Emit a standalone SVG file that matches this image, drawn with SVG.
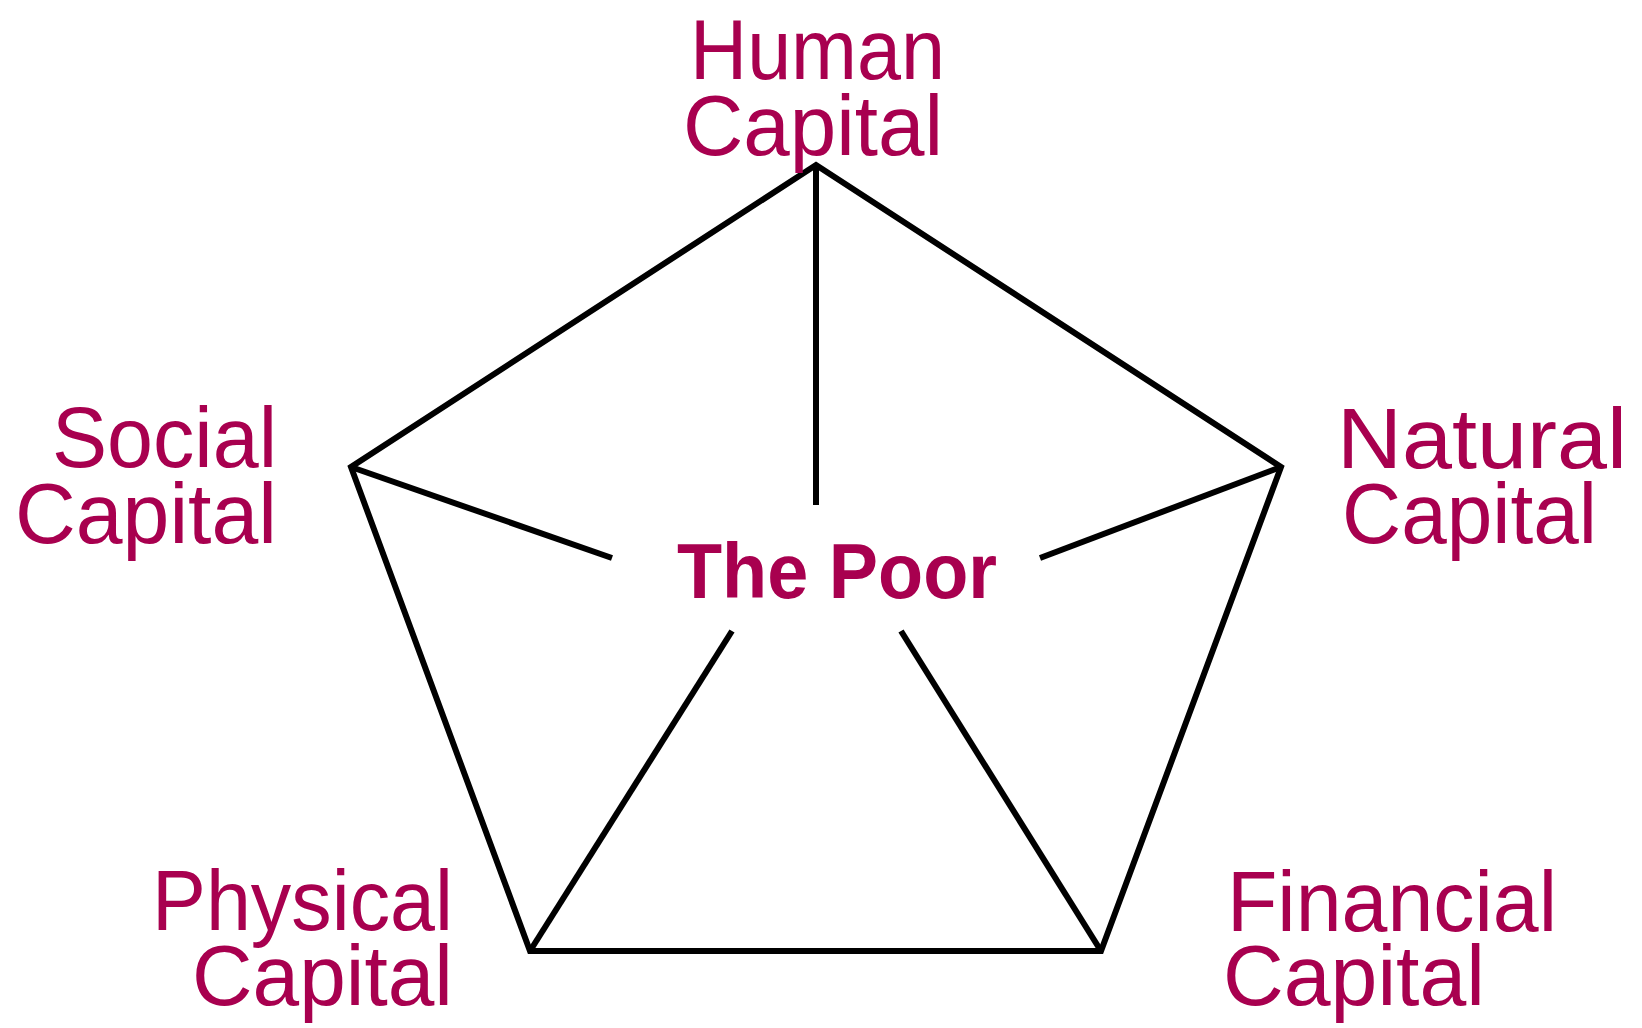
<svg xmlns="http://www.w3.org/2000/svg" width="1642" height="1028" viewBox="0 0 1642 1028">
<style>
.lbl{font-family:"Liberation Sans",Arial,sans-serif;font-size:86px;fill:#A8004F}
.ctr{font-family:"Liberation Sans",Arial,sans-serif;font-size:77px;font-weight:bold;fill:#A8004F}
.ln{stroke:#000;stroke-width:6;fill:none;stroke-linejoin:miter;stroke-miterlimit:10}
</style>
<rect width="1642" height="1028" fill="#fff"/>
<g id="connectors">
<polygon class="ln" points="816,165 1281,467 1101,951 530,951 351,467"/>
<line class="ln" x1="816" y1="165" x2="816" y2="505"/>
<line class="ln" x1="351" y1="467" x2="612" y2="558"/>
<line class="ln" x1="1281" y1="467" x2="1040" y2="558"/>
<line class="ln" x1="530" y1="951" x2="732" y2="631"/>
<line class="ln" x1="1101" y1="951" x2="901" y2="631"/>
</g>
<g id="human">
<text class="lbl" x="690" y="79" textLength="255" lengthAdjust="spacingAndGlyphs">Human</text>
<text class="lbl" x="683" y="155" textLength="260" lengthAdjust="spacingAndGlyphs">Capital</text>
</g>
<g id="social">
<text class="lbl" x="52" y="467" textLength="225" lengthAdjust="spacingAndGlyphs">Social</text>
<text class="lbl" x="15" y="543" textLength="262" lengthAdjust="spacingAndGlyphs">Capital</text>
</g>
<g id="natural">
<text class="lbl" x="1337" y="468" textLength="290" lengthAdjust="spacingAndGlyphs">Natural</text>
<text class="lbl" x="1342" y="543" textLength="255" lengthAdjust="spacingAndGlyphs">Capital</text>
</g>
<g id="physical">
<text class="lbl" x="152" y="930" textLength="301" lengthAdjust="spacingAndGlyphs">Physical</text>
<text class="lbl" x="192" y="1005" textLength="261" lengthAdjust="spacingAndGlyphs">Capital</text>
</g>
<g id="financial">
<text class="lbl" x="1227" y="931" textLength="330" lengthAdjust="spacingAndGlyphs">Financial</text>
<text class="lbl" x="1223" y="1005" textLength="262" lengthAdjust="spacingAndGlyphs">Capital</text>
</g>
<g id="the-poor">
<text class="ctr" x="677" y="598" textLength="320" lengthAdjust="spacingAndGlyphs">The Poor</text>
</g>
</svg>
